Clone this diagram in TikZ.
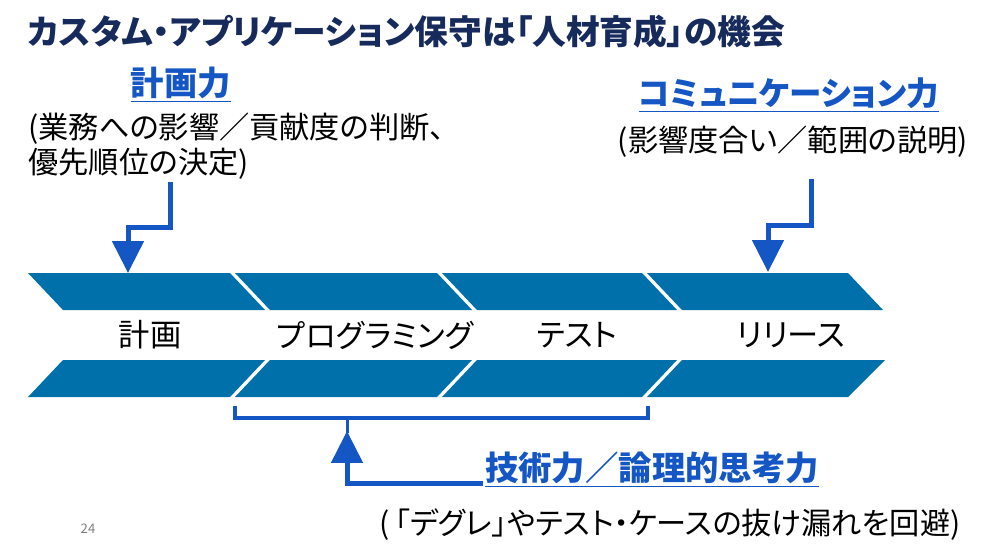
\documentclass[tikz,border=0pt]{standalone}
\usepackage{fontspec}
\setmainfont{Noto Sans CJK JP}[CharacterWidth=AlternateProportional]
\usetikzlibrary{arrows.meta}
\definecolor{banda}{RGB}{0,112,170}
\definecolor{azul}{RGB}{20,86,196}
\definecolor{marino}{RGB}{22,42,92}

\begin{document}
\begin{tikzpicture}[x=0.02cm, y=-0.02cm,
      fase/.style = {fill=banda},
      etapa/.style = {anchor=center, font=\fontsize{17.8}{21}\selectfont},
      titulo/.style = {anchor=west, text=marino, font=\bfseries\fontsize{19.2}{22}\selectfont},
      habilidad/.style = {anchor=center, text=azul, inner sep=1pt,
        font=\bfseries\fontsize{19}{22}\selectfont},
      detalle/.style = {anchor=west, align=left, inner sep=0pt,
        font=\fontsize{17.2}{20}\selectfont},
      flecha/.style = {draw=azul, line width=0.1cm, miter limit=20,
        -{Triangle[width=0.62cm, length=0.64cm]}},
      corchete/.style = {draw=azul, line width=0.08cm}
    ]
    \useasboundingbox (0,0) rectangle (1000,554);

    \node[titulo] (titulo) at (22,32) {カスタム・アプリケーション保守は「人材育成」の機会};

    %banda superior
    \fill[fase] (28,273) -- (230,273) -- (265,310) -- (63,310) -- cycle;
    \fill[fase] (235,273) -- (437,273) -- (472,310) -- (270,310) -- cycle;
    \fill[fase] (442,273) -- (642,273) -- (677,310) -- (477,310) -- cycle;
    \fill[fase] (647,273) -- (848,273) -- (883,310) -- (682,310) -- cycle;

    %banda inferior
    \fill[fase] (63,360) -- (265,360) -- (230,397) -- (28,397) -- cycle;
    \fill[fase] (270,360) -- (472,360) -- (437,397) -- (235,397) -- cycle;
    \fill[fase] (477,360) -- (677,360) -- (642,397) -- (442,397) -- cycle;
    \fill[fase] (682,360) -- (885,360) -- (848,397) -- (647,397) -- cycle;

    \node[etapa] (plan) at (150,335) {計画};
    \node[etapa] (prog) at (375,335) {プログラミング};
    \node[etapa] (test) at (577,335) {テスト};
    \node[etapa] (rel) at (791,335) {リリース};

    %izquierda
    \node[habilidad] (hplan) at (181,85) {\underline{計画力}};
    \node[detalle] (dplan) at (28,146) {(業務への影響／貢献度の判断、\\優先順位の決定)};
    \coordinate (p1) at (170,182);
    \coordinate (p2) at (128,273);
    \draw[flecha] (p1) -- (p1 |- 0,227) -- (p2 |- 0,227) -- (p2);

    %derecha
    \node[habilidad, font=\bfseries\fontsize{18.5}{22}\selectfont] (hcom) at (789,95) {\underline{コミュニケーション力}};
    \node[detalle, anchor=center] (dcom) at (793,142) {(影響度合い／範囲の説明)};
    \coordinate (c1) at (811,179);
    \coordinate (c2) at (768,272);
    \draw[flecha] (c1) -- (c1 |- 0,225) -- (c2 |- 0,225) -- (c2);

    %abajo
    \coordinate (b1) at (235,406);
    \coordinate (b2) at (648,406);
    \coordinate (b3) at (347,418);
    \draw[corchete] (b1) -- (b1 |- b3) -- (b2 |- b3) -- (b2);
    \draw[azul, line width=0.06cm] (b3) -- ++(0,15);
    \node[habilidad] (htec) at (652,470) {\underline{技術力／論理的思考力}};
    \node[detalle, anchor=center] (dtec) at (670,525) {(\kern3pt「デグレ」やテスト・ケースの抜け漏れを回避)};
    \draw[flecha] (htec.west |- 0,483) -- (b3 |- 0,483) -- (b3 |- 0,431);

    \node[text=gray, font=\fontsize{7.5}{8}\selectfont] (pag) at (88,529) {24};
\end{tikzpicture}
\end{document}
